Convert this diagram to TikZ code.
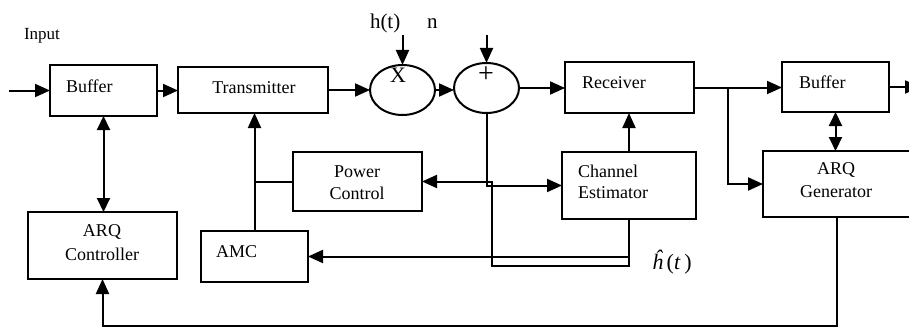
\documentclass[tikz,border=0pt]{standalone}
\usepackage{fontspec}
\setmainfont{Liberation Serif}
\usetikzlibrary{arrows.meta,shapes.geometric}
\begin{document}
\begin{tikzpicture}[x=1pt,y=-1pt,
  line width=2pt,
  box/.style={draw,rectangle,inner sep=0pt,outer sep=0pt},
  oval/.style={draw,ellipse,inner sep=0pt,outer sep=0pt,minimum width=65pt,minimum height=50pt},
  arr/.style={-{Triangle[length=15pt,width=13pt]}},
  dbl/.style={{Triangle[length=14pt,width=13pt]}-{Triangle[length=14pt,width=13pt]}},
  lbl/.style={inner sep=0pt,font=\fontsize{18}{21}\selectfont},
  lblw/.style={lbl,anchor=base west},
  lblc/.style={lbl,anchor=base}
]
\useasboundingbox (0,0) rectangle (909,329);
% boxes
\node[box,minimum width=107pt,minimum height=51pt] (buf1) at (103.5,90.5) {};
\node[box,minimum width=150pt,minimum height=46pt] (tx) at (253,90) {};
\node[oval] (mul) at (402.5,90) {};
\node[oval] (add) at (486.5,88) {};
\node[box,minimum width=129pt,minimum height=51pt] (rx) at (629.5,87.5) {};
\node[box,minimum width=107pt,minimum height=50pt] (buf2) at (835.5,87) {};
\node[box,minimum width=172pt,minimum height=66pt] (gen) at (849,184) {};
\node[box,minimum width=129pt,minimum height=59pt] (pc) at (357.5,181.5) {};
\node[box,minimum width=134pt,minimum height=67pt] (ce) at (629,185.5) {};
\node[box,minimum width=149pt,minimum height=67pt] (ctrl) at (102.5,245.5) {};
\node[box,minimum width=107pt,minimum height=51pt] (amc) at (254.5,256.5) {};
% texts
\node[lblw,font=\fontsize{17}{20}\selectfont] (tin) at (23,40) {Input};
\node[lblw] (tbuf1) at (65,92) {Buffer};
\node[lblc] (ttx) at (254,93) {Transmitter};
\node[inner sep=0pt,font=\fontsize{22}{24}\selectfont] (tx1) at (398,75.5) {X};
\node[inner sep=0pt,font=\fontsize{28}{30}\selectfont] (tplus) at (486,74.5) {+};
\node[lblw,font=\fontsize{21}{24}\selectfont] (tht) at (369,29) {h(t)};
\node[lblw,font=\fontsize{21}{24}\selectfont] (tn) at (426,29) {n};
\node[lblw] (trx) at (581,88) {Receiver};
\node[lblw] (tbuf2) at (798,88) {Buffer};
\node[lblc] (tpc1) at (357,177) {Power};
\node[lblc] (tpc2) at (357,199) {Control};
\node[lblw] (tce1) at (577,177) {Channel};
\node[lblw] (tce2) at (577,198) {Estimator};
\node[lblc] (tgen1) at (836,174) {ARQ};
\node[lblc] (tgen2) at (836,197) {Generator};
\node[lblc] (tctrl1) at (102,236) {ARQ};
\node[lblc] (tctrl2) at (102,260) {Controller};
\node[lblw] (tamc) at (215,257) {AMC};
\node[lblw,font=\fontsize{22}{24}\selectfont] (thh) at (651,269) {\textit{\^{h}}\,(\textit{t}\,)};
% coordinates
\coordinate (in0) at (9,90.5);
\coordinate (ht) at (402.5,35);
\coordinate (nt) at (486.5,35);
\coordinate (j) at (728,87.5);
\coordinate (out) at (920,87);
\coordinate (b) at (837,326);
\coordinate (k) at (492,266);
% connectors
\draw[arr] (in0) -- (buf1.west);
\draw[arr] (buf1.east) -- (buf1.east -| tx.west);
\draw[arr] (tx.east) -- (mul.west);
\draw[arr] (ht) -- (mul.north);
\draw[arr] (mul.east) -- (mul.east -| add.west);
\draw[arr] (nt) -- (add.north);
\draw[arr] (add.east) -- (add.east -| rx.west);
\draw[arr] (rx.east) -- (rx.east -| buf2.west);
\draw[arr] (j) |- (gen.west);
\draw[arr] (buf2.east) -- (out);
\draw[dbl] (buf2.south) -- (buf2.south |- gen.north);
\draw[arr] (b |- gen.south) -- (b) -| (ctrl.south);
\draw[dbl] (buf1.south) -- (buf1.south |- ctrl.north);
\draw[arr] (amc.north) -- (amc.north |- tx.south);
\draw (amc.north |- pc.west) -- (pc.west);
\draw[arr] (ce.north) -- (ce.north |- rx.south);
\draw[arr] (add.south) |- (ce.west);
\draw[arr] (ce.south) |- (k) |- (pc.east);
\draw[arr] (ce.south |- amc.east) -- (amc.east);
\end{tikzpicture}
\end{document}
